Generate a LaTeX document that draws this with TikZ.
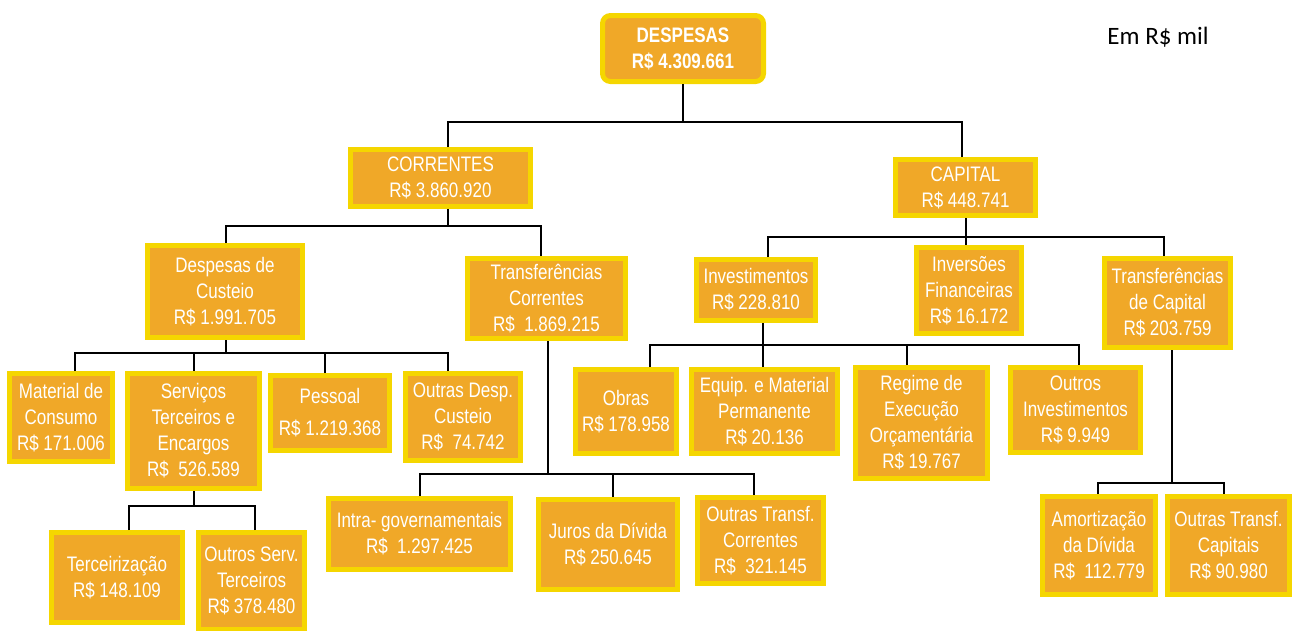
\documentclass[tikz,border=0pt]{standalone}
\usepackage{fontspec}
\newfontfamily\cond{Liberation Sans}[FakeStretch=0.81]
\newfontfamily\unitfont{Carlito}
\usetikzlibrary{positioning,calc}
\definecolor{boxOrange}{RGB}{240,168,40}
\definecolor{boxYellow}{RGB}{245,214,0}

\tikzset{
  box/.style={draw=boxYellow, line width=5pt, fill=boxOrange, text=white,
    align=center, inner sep=0pt, font=\cond\fontsize{21}{26}\selectfont},
  boxsize/.style 2 args={minimum width=#1pt, minimum height=#2pt},
  link/.style={draw=black, line width=2pt}
}

\begin{document}
\begin{tikzpicture}[x=1pt,y=-1pt]
  \useasboundingbox (0,0) rectangle (1293,630);

  % top
  \node[box, boxsize={161}{66}, rounded corners=8pt, font=\cond\bfseries\fontsize{21}{26}\selectfont]
    (desp) at (683,48.5) {DESPESAS\\R\$ 4.309.661};
  \node[font=\unitfont\fontsize{25}{30}\selectfont] (unit) at (1158,37) {Em R\$ mil};

  % level 1
  \node[box, boxsize={180}{57}] (corr) at (440.5,178) {CORRENTES\\R\$ 3.860.920};
  \node[box, boxsize={140}{56}] (cap) at (965.5,187.5) {CAPITAL\\R\$ 448.741};

  % level 2
  \node[box, boxsize={155}{92}] (cust) at (225,291.5) {Despesas de\\Custeio\\R\$ 1.991.705};
  \node[box, boxsize={158}{80}] (tcor) at (546.5,298.5) {Transferências\\Correntes\\R\$~ 1.869.215};
  \node[box, boxsize={119}{61}] (inv) at (756,290) {Investimentos\\R\$ 228.810};
  \node[box, boxsize={105}{86}] (ifin) at (969,290.5) {Inversões\\Financeiras\\R\$ 16.172};
  \node[box, boxsize={126}{89}] (tcap) at (1167.5,303) {Transferências\\de Capital\\R\$ 203.759};

  % level 3
  \node[box, boxsize={103}{88}] (mat) at (61,417.5) {Material de\\Consumo\\R\$ 171.006};
  \node[box, boxsize={132}{115}] (serv) at (193.5,431) {Serviços\\Terceiros e\\Encargos\\R\$~ 526.589};
  \node[box, boxsize={119}{75}] (pess) at (330,413) {Pessoal\\[6pt]R\$ 1.219.368};
  \node[box, boxsize={115}{87}] (outd) at (463,417) {Outras Desp.\\Custeio\\R\$~ 74.742};
  \node[box, boxsize={101}{84}] (obras) at (626,411.5) {Obras\\R\$ 178.958};
  \node[box, boxsize={146}{84}] (equip) at (764.5,411.5) {Equip. e Material\\Permanente\\R\$ 20.136};
  \node[box, boxsize={132}{111}] (regime) at (921.5,423) {Regime de\\Execução\\Orçamentária\\R\$ 19.767};
  \node[box, boxsize={130}{85}] (outi) at (1075.5,410) {Outros\\Investimentos\\R\$ 9.949};

  % level 4
  \node[box, boxsize={182}{71}] (intra) at (419.5,534) {Intra- governamentais\\R\$~ 1.297.425};
  \node[box, boxsize={139}{90}] (juros) at (608,544.5) {Juros da Dívida\\R\$ 250.645};
  \node[box, boxsize={126}{86}] (outtc) at (760.5,540.5) {Outras Transf.\\Correntes\\R\$~ 321.145};
  \node[box, boxsize={131}{90}] (terc) at (117,577.5) {Terceirização\\R\$ 148.109};
  \node[box, boxsize={106}{97}] (outs) at (251.5,581) {Outros Serv.\\Terceiros\\R\$ 378.480};
  \node[box, boxsize={113}{98}] (amort) at (1099,545.5) {Amortização\\da Dívida\\R\$~ 112.779};
  \node[box, boxsize={122}{98}] (outcap) at (1228.5,545.5) {Outras Transf.\\Capitais\\R\$ 90.980};

  % stems
  \foreach \up/\dx/\bus in {desp/0/122, corr/7/226, cap/0.5/237, cust/1/353,
                            serv/0/506, tcor/1.5/474, inv/7/345, tcap/4.5/483}
    \draw[link] ([xshift=\dx pt]\up.south) coordinate (stem) -- (stem |- 0,\bus);

  % drops
  \foreach \up/\kid/\dx/\bus in {desp/corr/7.5/122, desp/cap/-3.5/122,
      corr/cust/1/226, corr/tcor/-5.5/226,
      cap/inv/12/237, cap/ifin/-3/237, cap/tcap/-3.5/237,
      cust/mat/14/353, cust/serv/0/353, cust/pess/-5/353, cust/outd/-15/353,
      serv/terc/12/506, serv/outs/3.5/506,
      tcor/intra/0/474, tcor/juros/5/474, tcor/outtc/-6.5/474,
      inv/obras/24/345, inv/equip/-1.5/345, inv/regime/-14.5/345, inv/outi/3.5/345,
      tcap/amort/-1/483, tcap/outcap/-4.5/483}
    \draw[link] ([xshift=\dx pt]\kid.north) |- (\up.south |- 0,\bus);
\end{tikzpicture}
\end{document}
